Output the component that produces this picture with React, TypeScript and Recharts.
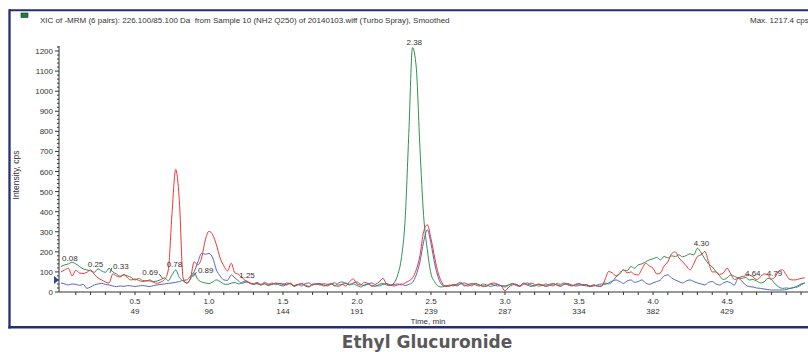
import { LineChart, Line, XAxis, YAxis, ReferenceDot } from "recharts";

// retention time grid (min), one smoothed scan every 0.025 min
const times = [
  0, 0.025, 0.05, 0.075, 0.1, 0.125, 0.15, 0.175, 0.2, 0.225,
  0.25, 0.275, 0.3, 0.325, 0.35, 0.375, 0.4, 0.425, 0.45, 0.475,
  0.5, 0.525, 0.55, 0.575, 0.6, 0.625, 0.65, 0.675, 0.7, 0.725,
  0.75, 0.775, 0.8, 0.825, 0.85, 0.875, 0.9, 0.925, 0.95, 0.975,
  1, 1.025, 1.05, 1.075, 1.1, 1.125, 1.15, 1.175, 1.2, 1.225,
  1.25, 1.275, 1.3, 1.325, 1.35, 1.375, 1.4, 1.425, 1.45, 1.475,
  1.5, 1.525, 1.55, 1.575, 1.6, 1.625, 1.65, 1.675, 1.7, 1.725,
  1.75, 1.775, 1.8, 1.825, 1.85, 1.875, 1.9, 1.925, 1.95, 1.975,
  2, 2.025, 2.05, 2.075, 2.1, 2.125, 2.15, 2.175, 2.2, 2.225,
  2.25, 2.275, 2.3, 2.325, 2.35, 2.375, 2.4, 2.425, 2.45, 2.475,
  2.5, 2.525, 2.55, 2.575, 2.6, 2.625, 2.65, 2.675, 2.7, 2.725,
  2.75, 2.775, 2.8, 2.825, 2.85, 2.875, 2.9, 2.925, 2.95, 2.975,
  3, 3.025, 3.05, 3.075, 3.1, 3.125, 3.15, 3.175, 3.2, 3.225,
  3.25, 3.275, 3.3, 3.325, 3.35, 3.375, 3.4, 3.425, 3.45, 3.475,
  3.5, 3.525, 3.55, 3.575, 3.6, 3.625, 3.65, 3.675, 3.7, 3.725,
  3.75, 3.775, 3.8, 3.825, 3.85, 3.875, 3.9, 3.925, 3.95, 3.975,
  4, 4.025, 4.05, 4.075, 4.1, 4.125, 4.15, 4.175, 4.2, 4.225,
  4.25, 4.275, 4.3, 4.325, 4.35, 4.375, 4.4, 4.425, 4.45, 4.475,
  4.5, 4.525, 4.55, 4.575, 4.6, 4.625, 4.65, 4.675, 4.7, 4.725,
  4.75, 4.775, 4.8, 4.825, 4.85, 4.875, 4.9, 4.925, 4.95, 4.975,
  5, 5.025,
];

const greenCps = [
  127, 135, 140, 148, 140, 127, 115, 110, 105, 98,
  115, 105, 98, 118, 100, 90, 78, 85, 80, 72,
  60, 68, 58, 55, 60, 52, 55, 62, 70, 56,
  85, 110, 72, 55, 45, 65, 93, 62, 50, 45,
  42, 50, 60, 52, 40, 38, 44, 47, 40, 48,
  55, 45, 38, 42, 35, 40, 32, 38, 42, 35,
  30, 38, 42, 28, 35, 40, 30, 25, 35, 42,
  38, 30, 35, 42, 32, 28, 38, 45, 35, 40,
  32, 25, 35, 40, 30, 28, 38, 42, 35, 32,
  45, 85, 170, 360, 790, 1217, 1120, 720, 380, 210,
  90, 50, 28, 25, 32, 30, 38, 35, 42, 30,
  38, 42, 35, 30, 40, 35, 28, 32, 38, 30,
  25, 35, 42, 38, 30, 45, 35, 28, 32, 40,
  35, 30, 38, 42, 35, 28, 40, 38, 32, 35,
  40, 32, 38, 30, 35, 28, 30, 45, 40, 52,
  75, 90, 110, 105, 127, 118, 135, 140, 150, 160,
  165, 172, 160, 177, 170, 180, 177, 185, 175, 182,
  190, 185, 218, 195, 165, 140, 125, 102, 80, 62,
  70, 85, 78, 70, 68, 72, 60, 62, 55, 45,
  50, 68, 62, 40, 25, 18, 20, 18, 22, 25,
  35, 45,
];

const redCps = [
  100, 110, 118, 80, 108, 95, 92, 98, 110, 88,
  70, 60, 50, 45, 90, 80, 75, 88, 70, 60,
  65, 58, 52, 56, 55, 48, 43, 50, 62, 110,
  390, 610, 450, 70, 43, 70, 150, 135, 170, 260,
  302, 285, 235, 170, 130, 105, 143, 95, 88, 70,
  55, 45, 40, 48, 38, 42, 35, 45, 38, 42,
  40, 35, 45, 30, 38, 42, 35, 28, 40, 38,
  42, 35, 30, 40, 45, 35, 38, 30, 52, 65,
  40, 35, 48, 42, 30, 38, 50, 68, 40, 35,
  38, 40, 35, 45, 55, 70, 110, 180, 300, 335,
  265, 170, 90, 45, 28, 35, 30, 40, 48, 35,
  30, 38, 42, 35, 28, 32, 40, 45, 38, 30,
  5, 25, 35, 38, 30, 42, 35, 45, 38, 30,
  32, 40, 35, 30, 42, 38, 45, 35, 30, 38,
  42, 35, 30, 28, 35, 30, 28, 60, 102, 95,
  80, 95, 110, 95, 100, 88, 85, 115, 143, 130,
  118, 90, 95, 130, 150, 190, 200, 170, 150, 130,
  110, 140, 177, 185, 202, 150, 100, 100, 88, 95,
  118, 90, 62, 70, 77, 80, 85, 75, 62, 75,
  90, 85, 65, 75, 105, 110, 85, 62, 60, 62,
  68, 70,
];

const blueCps = [
  45, 40, 35, 40, 38, 33, 38, 18, 25, 35,
  40, 43, 38, 35, 30, 27, 30, 28, 32, 30,
  28, 30, 32, 30, 27, 32, 35, 38, 40, 43,
  45, 48, 52, 58, 60, 80, 102, 150, 193, 188,
  192, 170, 110, 80, 60, 58, 85, 70, 55, 43,
  50, 45, 40, 42, 35, 48, 40, 38, 45, 42,
  38, 45, 40, 32, 38, 30, 42, 45, 35, 40,
  35, 42, 38, 40, 30, 45, 50, 42, 38, 45,
  50, 38, 32, 40, 45, 35, 30, 38, 42, 35,
  30, 35, 40, 32, 38, 48, 85, 150, 250, 310,
  240, 140, 70, 35, 28, 30, 35, 30, 40, 45,
  38, 30, 42, 35, 30, 28, 40, 35, 30, 32,
  30, 35, 40, 32, 28, 38, 45, 35, 30, 38,
  35, 28, 32, 40, 35, 30, 38, 42, 35, 30,
  32, 38, 35, 28, 30, 35, 40, 38, 45, 55,
  60, 52, 43, 55, 60, 48, 52, 60, 45, 38,
  45, 52, 60, 80, 85, 70, 60, 52, 45, 55,
  60, 52, 45, 40, 35, 48, 52, 40, 35, 45,
  52, 45, 35, 68, 55, 35, 27, 25, 20, 18,
  15, 12, 10, 10, 10, 10, 12, 18, 22, 30,
  40, 45,
];

const timeTicks = [0.5, 1.0, 1.5, 2.0, 2.5, 3.0, 3.5, 4.0, 4.5];
const scanLabels = ["49", "96", "144", "191", "239", "287", "334", "382", "429"];

// apex labels and the intensity they sit at
const peakTimes = [0.08, 0.25, 0.33, 0.69, 0.78, 0.89, 1.25, 2.38, 4.3, 4.64, 4.79];
const peakLabelCps = [155, 125, 115, 85, 125, 95, 70, 1230, 230, 80, 80];
const labelShift = [-3, -2.5, 11, -13, -2, 13, 1, 1, 4, 5, 4.5];

const rows = times.map((t, i) => ({ t, green: greenCps[i], red: redCps[i], blue: blueCps[i] }));

const xTickMarks = Array.from({ length: 50 }, (_, i) => (i + 1) / 10);
const yTickMarks = Array.from({ length: 62 }, (_, i) => i * 20);

const FONT = "'Liberation Sans', Arial, sans-serif";
const INK = "#333";
const FRAME = "#272d73";

function YTick({ x, y, payload }: any) {
  const v = payload.value;
  const major = v % 100 === 0;
  return (
    <g>
      <line x1={x - (major ? 4 : 2)} x2={x} y1={y} y2={y} stroke={INK} strokeWidth={1} />
      {major && (
        <text x={x - 6} y={y + 3} textAnchor="end" fontSize={8} fill={INK} fontFamily={FONT}>
          {v}
        </text>
      )}
    </g>
  );
}

function XTick({ x, y, payload }: any) {
  const v = payload.value;
  const idx = timeTicks.findIndex((t) => Math.abs(t - v) < 1e-6);
  return (
    <g>
      <line x1={x} x2={x} y1={y} y2={y + 3} stroke={INK} strokeWidth={1} />
      {idx >= 0 && (
        <>
          <text x={x} y={y + 12} textAnchor="middle" fontSize={8} fill={INK} fontFamily={FONT}>
            {v.toFixed(1)}
          </text>
          <text x={x} y={y + 22} textAnchor="middle" fontSize={8} fill={INK} fontFamily={FONT}>
            {scanLabels[idx]}
          </text>
        </>
      )}
    </g>
  );
}

function PeakLabel({ cx, cy, text, dx }: any) {
  const lead = Math.abs(dx) > 8;
  const s = Math.sign(dx);
  return (
    <g>
      {lead && <line x1={cx} y1={cy + 4} x2={cx + dx - s * 9} y2={cy - 1} stroke={INK} strokeWidth={0.8} />}
      <text x={cx + dx} y={cy} textAnchor="middle" fontSize={8} fill={INK} fontFamily={FONT}>
        {text}
      </text>
    </g>
  );
}

export default function App() {
  return (
    <div style={{ position: "absolute", left: 0, top: 0, width: 808, height: 352, background: "#fff", overflow: "hidden" }}>
      <LineChart
        width={808}
        height={330}
        data={rows}
        margin={{ top: 46, right: 0, bottom: 0, left: 0 }}
        style={{ fontFamily: FONT }}
      >
        <XAxis
          dataKey="t"
          type="number"
          domain={[-0.0135, 5.047]}
          allowDataOverflow
          ticks={xTickMarks}
          interval={0}
          tick={XTick}
          tickLine={false}
          tickSize={0}
          tickMargin={0}
          height={38}
          axisLine={{ stroke: INK }}
        />
        <YAxis
          type="number"
          domain={[0, 1225]}
          allowDataOverflow
          ticks={yTickMarks}
          interval={0}
          tick={YTick}
          tickLine={false}
          tickSize={0}
          tickMargin={0}
          width={59}
          axisLine={{ stroke: INK }}
        />
        <Line type="monotone" dataKey="blue" stroke="#5566c0" strokeWidth={1} dot={false} activeDot={false} isAnimationActive={false} />
        <Line type="monotone" dataKey="green" stroke="#2e9150" strokeWidth={1} dot={false} activeDot={false} isAnimationActive={false} />
        <Line type="monotone" dataKey="red" stroke="#f03535" strokeWidth={1} dot={false} activeDot={false} isAnimationActive={false} />
        {peakTimes.map((t, i) => (
          <ReferenceDot
            key={t}
            x={t}
            y={peakLabelCps[i]}
            ifOverflow="visible"
            shape={(p: any) => <PeakLabel cx={p.cx} cy={p.cy} text={t.toFixed(2)} dx={labelShift[i]} />}
          />
        ))}
        <ReferenceDot
          x={0}
          y={60}
          ifOverflow="visible"
          shape={(p: any) => (
            <polygon
              points={`${p.cx - 7},${p.cy - 4} ${p.cx - 2},${p.cy} ${p.cx - 7},${p.cy + 4}`}
              fill="#2b4a9a"
            />
          )}
        />
      </LineChart>
      <svg width={808} height={352} style={{ position: "absolute", left: 0, top: 0, pointerEvents: "none" }}>
        <line x1={9} y1={10.3} x2={808} y2={10.3} stroke={FRAME} strokeWidth={2} />
        <line x1={9.5} y1={9.3} x2={9.5} y2={328.5} stroke={FRAME} strokeWidth={2.3} />
        <line x1={8.3} y1={327.3} x2={808} y2={327.3} stroke={FRAME} strokeWidth={2.4} />
        <rect x={21} y={13} width={7} height={4.5} fill="#1f7a3a" stroke="#0d3d1a" strokeWidth={0.6} />
        <text x={40} y={23} fontSize={8} fill={INK} fontFamily={FONT}>
          XIC of -MRM (6 pairs): 226.100/85.100 Da&#160;&#160;from Sample 10 (NH2 Q250) of 20140103.wiff (Turbo Spray), Smoothed
        </text>
        <text x={750} y={23} fontSize={8} fill={INK} fontFamily={FONT}>
          Max. 1217.4 cps
        </text>
        <text transform="translate(19,175) rotate(-90)" textAnchor="middle" fontSize={8.5} fill={INK} fontFamily={FONT}>
          Intensity, cps
        </text>
        <text x={428} y={323.5} textAnchor="middle" fontSize={8} fill={INK} fontFamily={FONT}>
          Time, min
        </text>
        <text x={427} y={348} textAnchor="middle" fontSize={17} fontWeight="bold" fill="#595959" fontFamily="'DejaVu Sans', Verdana, sans-serif">
          Ethyl Glucuronide
        </text>
      </svg>
    </div>
  );
}
